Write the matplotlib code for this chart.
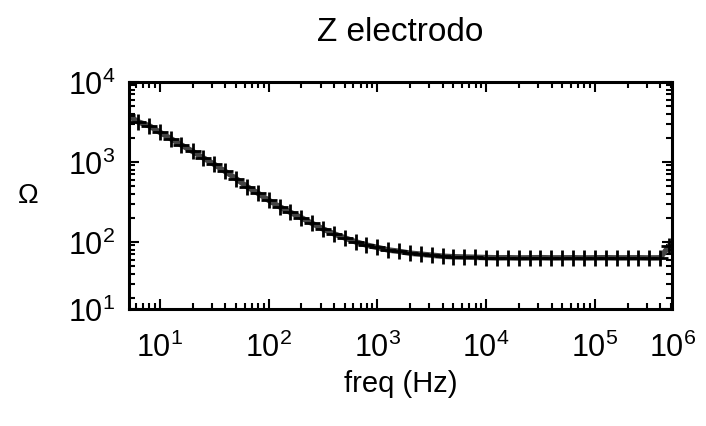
import numpy as np
import matplotlib
matplotlib.use("Agg")
import matplotlib.pyplot as plt
from matplotlib.ticker import LogLocator, NullFormatter

plt.rcParams['font.family'] = ['Liberation Sans Narrow', 'Liberation Sans', 'DejaVu Sans']
plt.rcParams['mathtext.fontset'] = 'custom'
plt.rcParams['mathtext.rm'] = 'Liberation Sans'
plt.rcParams['mathtext.it'] = 'Liberation Sans'

# data
freq = [5, 6.3, 8, 10, 12.6, 15.8, 20, 25.1, 31.6, 39.8, 50.1, 63.1, 79.4,
        100, 126, 158, 200, 251, 316, 398, 501, 631, 794,
        1000, 1260, 1580, 2000, 2510, 3160, 3980, 5010, 6310, 7940,
        10000, 12600, 15800, 20000, 25100, 31600, 39800, 50100, 63100, 79400,
        100000, 126000, 158000, 200000, 251000, 316000, 398000, 480000]
z = [3900, 3160, 2820, 2340, 1950, 1620, 1350, 1120, 930, 760, 617, 490, 407,
     331, 275, 234, 200, 170, 145, 126, 112, 100, 91,
     85, 79, 76, 72, 70, 68, 66, 65, 64.5, 64,
     63.5, 63, 63.2, 62.8, 63, 63.3, 62.9, 63, 63.1, 62.8,
     63, 63.2, 62.9, 63, 63.1, 62.8, 63, 88]

xticks = [10, 100, 1e3, 1e4, 1e5, 10**5.71]
xlabels = ['$10^{1}$', '$10^{2}$', '$10^{3}$', '$10^{4}$', '$10^{5}$', '$10^{6}$']
yticks = [10**1.16, 100, 1e3, 1e4]
ylabels = ['$10^{1}$', '$10^{2}$', '$10^{3}$', '$10^{4}$']

fig = plt.figure(figsize=(7.06, 4.27), dpi=100)
ax = fig.add_axes([0.1827, 0.274, 0.952 - 0.1827, 0.806 - 0.274])

ax.plot(freq, z, color='#444444', lw=4, zorder=2)
ax.plot(freq, z, ls='none', marker='+', ms=11, mew=2, color='black', zorder=3)

ax.set_xscale('log')
ax.set_yscale('log')
ax.set_xlim(10**0.716, 10**5.71)
ax.set_ylim(10**1.16, 1e4)

ax.set_xticks(xticks)
ax.set_xticklabels(xlabels)
ax.set_yticks(yticks)
ax.set_yticklabels(ylabels)
ax.xaxis.set_minor_locator(LogLocator(base=10, subs=np.arange(2, 10)))
ax.yaxis.set_minor_locator(LogLocator(base=10, subs=np.arange(2, 10)))
ax.xaxis.set_minor_formatter(NullFormatter())
ax.yaxis.set_minor_formatter(NullFormatter())

ax.tick_params(which='both', direction='in', top=True, right=True,
               width=1.5, labelsize=22, pad=10)
ax.tick_params(axis='x', which='major', pad=16)
ax.tick_params(which='major', length=7)
ax.tick_params(which='minor', length=4)
for s in ax.spines.values():
    s.set_linewidth(2.2)

ax.set_title('Z electrodo', fontsize=24, pad=30)
ax.set_xlabel('freq (Hz)', fontsize=21, labelpad=5)
ax.set_ylabel('Ω', fontsize=20, rotation=0, labelpad=28, va='center')

fig.savefig('out.png', dpi=100)
